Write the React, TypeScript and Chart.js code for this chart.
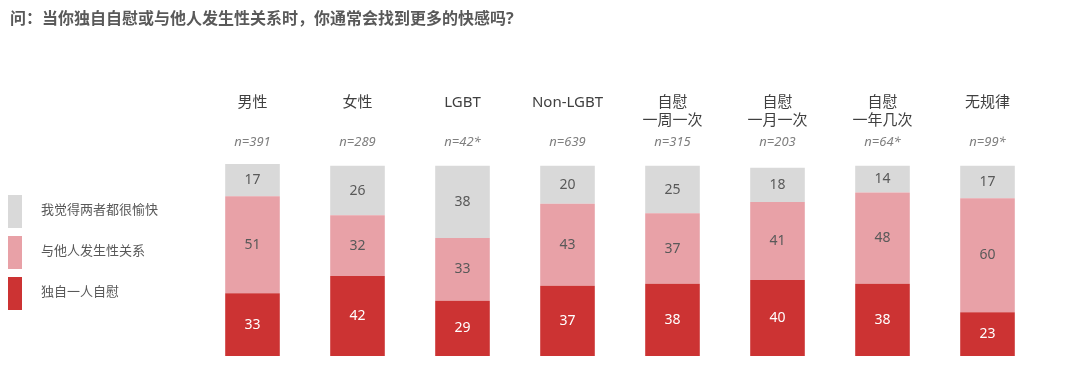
import React, { useEffect, useRef } from 'react';
import { Chart, registerables } from 'chart.js';

Chart.register(...registerables);

const titleText = '问：当你独自自慰或与他人发生性关系时，你通常会找到更多的快感吗?';

const categories: string[][] = [
  ['男性', ''],
  ['女性', ''],
  ['LGBT', ''],
  ['Non-LGBT', ''],
  ['自慰', '一周一次'],
  ['自慰', '一月一次'],
  ['自慰', '一年几次'],
  ['无规律', ''],
];

const sampleSizes = ['n=391', 'n=289', 'n=42*', 'n=639', 'n=315', 'n=203', 'n=64*', 'n=99*'];

const seriesNames = ['独自一人自慰', '与他人发生性关系', '我觉得两者都很愉快'];
const soloValues = [33, 42, 29, 37, 38, 40, 38, 23];
const partnerValues = [51, 32, 33, 43, 37, 41, 48, 60];
const bothValues = [17, 26, 38, 20, 25, 18, 14, 17];

const seriesColors = ['#CC3333', '#E8A1A7', '#D9D9D9'];
const labelColors = ['#FFFFFF', '#595959', '#595959'];

const FONT = '"Noto Sans", "Noto Sans CJK SC", sans-serif';

const valueLabels = {
  id: 'valueLabels',
  afterDatasetsDraw(chart: any) {
    const ctx = chart.ctx;
    ctx.save();
    ctx.font = `14px ${FONT}`;
    ctx.textAlign = 'center';
    ctx.textBaseline = 'middle';
    chart.data.datasets.forEach((ds: any, i: number) => {
      const meta = chart.getDatasetMeta(i);
      meta.data.forEach((el: any, j: number) => {
        const p = el.getProps(['x', 'y', 'base'], true);
        ctx.fillStyle = labelColors[i];
        ctx.fillText(String(ds.data[j]), p.x, (p.y + p.base) / 2);
      });
    });
    ctx.restore();
  },
};

const sideLegend = {
  id: 'sideLegend',
  afterDraw(chart: any) {
    const ctx = chart.ctx;
    const items = chart.data.datasets
      .map((ds: any) => ({ label: ds.label, color: ds.backgroundColor }))
      .reverse();
    ctx.save();
    ctx.font = `13px ${FONT}`;
    ctx.textAlign = 'left';
    ctx.textBaseline = 'middle';
    items.forEach((it: any, k: number) => {
      const top = 195 + k * 41;
      ctx.fillStyle = it.color;
      ctx.fillRect(8, top, 14, 33);
      ctx.fillStyle = '#595959';
      ctx.fillText(it.label, 41, top + 15);
    });
    ctx.restore();
  },
};

export default function App() {
  const ref = useRef<HTMLCanvasElement | null>(null);

  useEffect(() => {
    if (!ref.current) return;
    const values = [soloValues, partnerValues, bothValues];
    const chart = new Chart(ref.current, {
      type: 'bar',
      data: {
        labels: categories,
        datasets: values.map((v, i) => ({
          label: seriesNames[i],
          data: v,
          backgroundColor: seriesColors[i],
          borderWidth: 0,
          barPercentage: 0.52,
          categoryPercentage: 1,
          xAxisID: 'x',
          yAxisID: 'y',
        })),
      },
      options: {
        responsive: false,
        animation: false,
        devicePixelRatio: 1,
        layout: { padding: { left: 10, right: 40, top: 0, bottom: 17 } },
        plugins: {
          legend: { display: false },
          tooltip: { enabled: false },
          title: {
            display: true,
            text: titleText,
            align: 'start',
            color: '#595959',
            font: { family: FONT, size: 16, weight: 'bold', lineHeight: 1.2 },
            padding: { top: 10, bottom: 0 },
          },
        },
        scales: {
          x: {
            type: 'category',
            axis: 'x',
            position: 'top',
            stacked: true,
            offset: true,
            weight: 2,
            clip: false,
            grid: { display: false, drawTicks: false },
            border: { display: false },
            ticks: {
              autoSkip: false,
              maxRotation: 0,
              padding: -3,
              color: '#404040',
              font: { family: FONT, size: 15, lineHeight: 1.2 },
            },
            afterFit: (scale: any) => {
              scale.height = 97.8;
            },
          },
          xn: {
            type: 'category',
            axis: 'x',
            position: 'top',
            labels: sampleSizes,
            offset: true,
            weight: 1,
            clip: false,
            grid: { display: false, drawTicks: false },
            border: { display: false },
            ticks: {
              autoSkip: false,
              maxRotation: 0,
              padding: 12,
              color: '#7F7F7F',
              font: { family: FONT, size: 13, style: 'italic', lineHeight: 1.2 },
            },
            afterFit: (scale: any) => {
              scale.height = 35;
            },
          },
          y: {
            type: 'linear',
            position: 'left',
            stacked: true,
            min: 0,
            max: 102,
            grid: { display: false },
            border: { display: false },
            ticks: { display: false },
            afterFit: (scale: any) => {
              scale.width = 190;
            },
          },
        },
      },
      plugins: [valueLabels, sideLegend],
    } as any);
    return () => chart.destroy();
  }, []);

  return (
    <div style={{ position: 'fixed', left: 0, top: 0, width: 1080, height: 373, background: '#fff' }}>
      <canvas ref={ref} width={1080} height={373} />
    </div>
  );
}
